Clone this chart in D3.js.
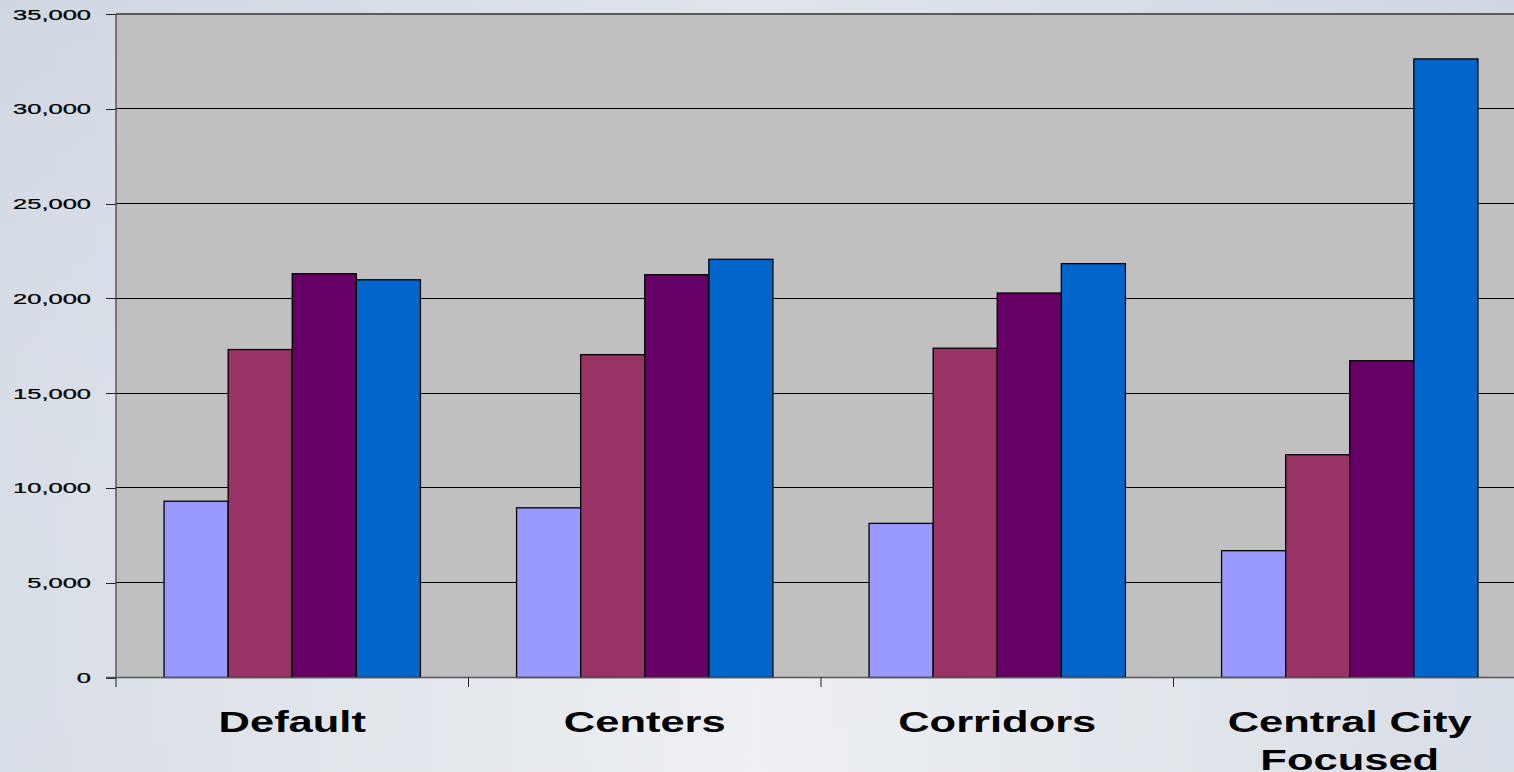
<!DOCTYPE html>
<html>
<head>
<meta charset="utf-8">
<script src="https://cdn.jsdelivr.net/npm/d3@7/dist/d3.min.js"></script>
<style>
  html, body { margin: 0; padding: 0; overflow: hidden; }
  body { width: 1514px; height: 772px; }
  svg { display: block; }
</style>
</head>
<body>
<svg id="chart" width="1514" height="772"></svg>
<script>
// Scenario categories along the x axis
const categories = ["Default", "Centers", "Corridors", "Central City Focused"];
// Category labels as they wrap onto lines
const categoryLines = [["Default"], ["Centers"], ["Corridors"], ["Central City", "Focused"]];
// Four series per scenario, left to right
const seriesNames = ["Series 1", "Series 2", "Series 3", "Series 4"];
const series1 = [9300, 8950, 8130, 6690];
const series2 = [17300, 17030, 17370, 11750];
const series3 = [21300, 21250, 20280, 16710];
const series4 = [20980, 22060, 21830, 32630];
const seriesColors = ["#9999ff", "#993366", "#660066", "#0066cc"];
// Y-axis ticks
const yTicks = [0, 5000, 10000, 15000, 20000, 25000, 30000, 35000];

const seriesValues = [series1, series2, series3, series4];

const W = 1514, H = 772;
const plot = { left: 116, top: 14, bottom: 677.5, catWidth: 352.5 };

const svg = d3.select("#chart");

// Page background: soft blue-grey with a lighter middle
const defs = svg.append("defs");
const bg = defs.append("linearGradient").attr("id", "bg").attr("x1", "0").attr("x2", "1").attr("y1", "0").attr("y2", "0");
bg.append("stop").attr("offset", "0%").attr("stop-color", "#d3dae3");
bg.append("stop").attr("offset", "50%").attr("stop-color", "#eceef2");
bg.append("stop").attr("offset", "100%").attr("stop-color", "#d3dae3");
const bgV = defs.append("linearGradient").attr("id", "bgV").attr("x1", "0").attr("x2", "0").attr("y1", "0").attr("y2", "1");
bgV.append("stop").attr("offset", "0%").attr("stop-color", "#c8d2de").attr("stop-opacity", 0.35);
bgV.append("stop").attr("offset", "100%").attr("stop-color", "#ffffff").attr("stop-opacity", 0.1);
svg.append("rect").attr("width", W).attr("height", H).attr("fill", "url(#bg)");
svg.append("rect").attr("width", W).attr("height", H).attr("fill", "url(#bgV)");

const x0 = d3.scaleBand()
  .domain(categories)
  .range([plot.left, plot.left + plot.catWidth * categories.length])
  .paddingInner(0).paddingOuter(0);

const x1 = d3.scaleBand()
  .domain(seriesNames)
  .range([0, x0.bandwidth()])
  .paddingInner(0).paddingOuter(0.75);

const y = d3.scaleLinear().domain([0, 35000]).range([plot.bottom, plot.top]);

// Plot area
svg.append("rect")
  .attr("x", plot.left).attr("y", plot.top)
  .attr("width", W - plot.left).attr("height", plot.bottom - plot.top)
  .attr("fill", "#c0c0c0");

// Horizontal gridlines
svg.append("g")
  .attr("shape-rendering", "crispEdges")
  .selectAll("line")
  .data(yTicks.filter(d => d > 0))
  .join("line")
  .attr("x1", plot.left).attr("x2", W)
  .attr("y1", d => y(d)).attr("y2", d => y(d))
  .attr("stroke", d => d === 35000 ? "#5a5a5a" : "#000")
  .attr("stroke-width", d => d === 35000 ? 2 : 1);

// Bars
const groups = svg.append("g")
  .selectAll("g")
  .data(categories)
  .join("g")
  .attr("transform", d => `translate(${x0(d)},0)`);

groups.selectAll("rect")
  .data((c, ci) => seriesNames.map((s, si) => ({ s, v: seriesValues[si][ci], color: seriesColors[si] })))
  .join("rect")
  .attr("x", d => x1(d.s))
  .attr("y", d => y(d.v))
  .attr("width", x1.bandwidth())
  .attr("height", d => y(0) - y(d.v))
  .attr("fill", d => d.color)
  .attr("stroke", "#000")
  .attr("stroke-width", 1.3);

// Y axis
const tickScaleX = 1.82;
const yAxis = svg.append("g")
  .attr("transform", `translate(${plot.left},0)`)
  .call(d3.axisLeft(y).tickValues(yTicks).tickFormat(d3.format(",")).tickSize(10).tickSizeOuter(0));
yAxis.select(".domain").remove();
yAxis.selectAll(".tick line").attr("stroke", "#222").attr("stroke-width", 1).attr("shape-rendering", "crispEdges");
yAxis.selectAll(".tick text")
  .attr("x", -25 / tickScaleX)
  .attr("dy", "0.36em")
  .attr("transform", `scale(${tickScaleX},1)`)
  .attr("fill", "#000")
  .attr("stroke", "#000")
  .attr("stroke-width", 0.25)
  .style("font-family", "'Liberation Sans', Arial, sans-serif")
  .style("font-size", "14px");
yAxis.append("line")
  .attr("x1", 0).attr("x2", 0)
  .attr("y1", plot.top).attr("y2", plot.bottom + 9.5)
  .attr("stroke", "#444").attr("stroke-width", 1.3);

// X axis
svg.append("line")
  .attr("x1", plot.left - 10).attr("x2", W)
  .attr("y1", plot.bottom).attr("y2", plot.bottom)
  .attr("stroke", "#555").attr("stroke-width", 1.3);

svg.append("g")
  .selectAll("line")
  .data(categories.slice(1))
  .join("line")
  .attr("x1", d => x0(d)).attr("x2", d => x0(d))
  .attr("y1", plot.bottom).attr("y2", plot.bottom + 9.5)
  .attr("stroke", "#222").attr("stroke-width", 1);

// Category labels
const catScaleX = 1.5;
const labels = svg.append("g")
  .selectAll("text")
  .data(categories)
  .join("text")
  .attr("transform", d => `translate(${x0(d) + x0.bandwidth() / 2},731.5) scale(${catScaleX},1)`)
  .attr("text-anchor", "middle")
  .attr("fill", "#000")
  .style("font-family", "'Liberation Sans', Arial, sans-serif")
  .style("font-weight", "bold")
  .style("font-size", "29px");

labels.selectAll("tspan")
  .data((d, i) => categoryLines[i])
  .join("tspan")
  .attr("x", 0)
  .attr("dy", (d, i) => i === 0 ? 0 : 39)
  .text(d => d);
</script>
</body>
</html>
